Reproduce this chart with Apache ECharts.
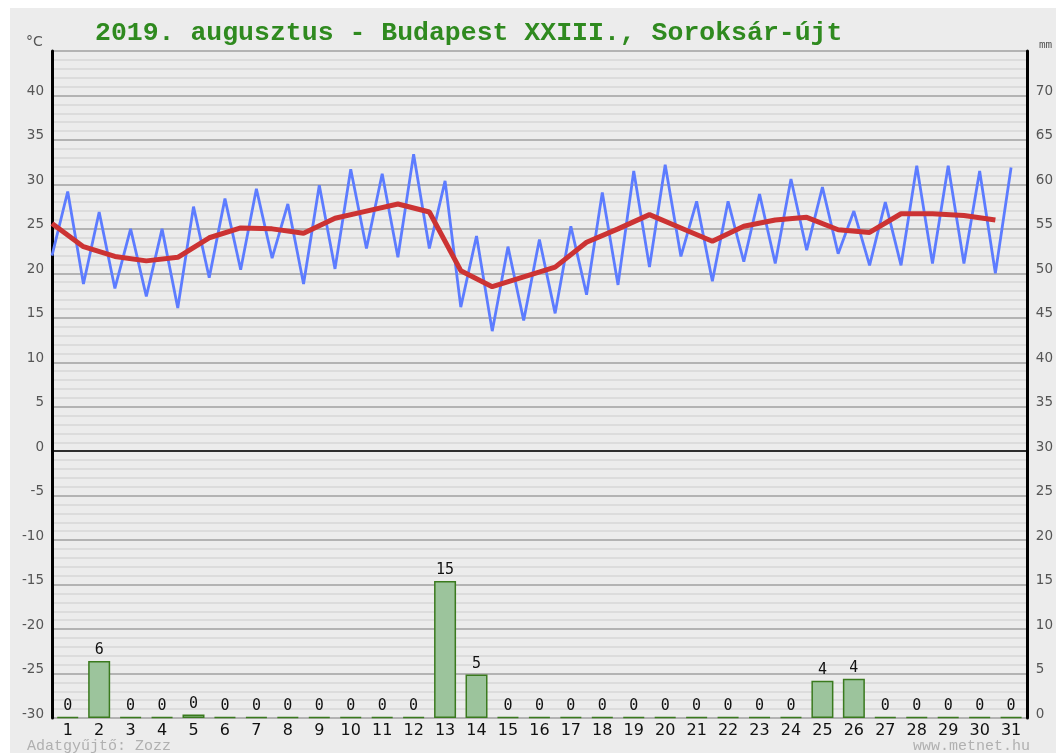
<!DOCTYPE html>
<html>
<head>
<meta charset="utf-8">
<script src="https://cdn.jsdelivr.net/npm/echarts@6/dist/echarts.min.js"></script>
<style>
html,body{margin:0;padding:0;background:#ffffff;width:1056px;height:753px;overflow:hidden;}
#c{position:absolute;left:10px;top:8px;width:1046px;height:745px;}
</style>
</head>
<body>
<div id="c"></div>
<script>
const titleText = '2019. augusztus - Budapest XXIII., Soroksár-újt';
const days = ['1','2','3','4','5','6','7','8','9','10','11','12','13','14','15','16','17','18','19','20','21','22','23','24','25','26','27','28','29','30','31'];
const tmin = [22.0,18.8,18.3,17.4,16.1,19.5,20.4,21.7,18.8,20.5,22.8,21.8,22.8,16.2,13.5,14.7,15.5,17.6,18.7,20.7,21.9,19.1,21.3,21.1,22.6,22.2,20.9,20.9,21.1,21.1,20.0];
const tmax = [29.2,26.9,25.0,25.0,27.5,28.4,29.5,27.8,29.9,31.7,31.2,33.4,30.4,24.2,23.0,23.8,25.3,29.1,31.5,32.2,28.1,28.1,28.9,30.6,29.7,27.0,28.0,32.1,32.1,31.5,31.9];
const tavg = [25.6,23.0,21.9,21.4,21.8,24.0,25.1,25.0,24.5,26.2,27.0,27.8,26.9,20.3,18.5,19.6,20.7,23.5,25.0,26.6,25.1,23.6,25.3,26.0,26.3,24.9,24.6,26.7,26.7,26.5,26.0];
const precip = [0,6.4,0,0,0.4,0,0,0,0,0,0,0,15.4,4.9,0,0,0,0,0,0,0,0,0,0,4.2,4.4,0,0,0,0,0];

const blueData = [];
tmin.forEach((v, i) => { blueData.push([i, v]); blueData.push([i + 0.5, tmax[i]]); });
const redData = tavg.map((v, i) => [i, v]);

const chart = echarts.init(document.getElementById('c'));
chart.setOption({
  backgroundColor: '#ececec',
  animation: false,
  title: {
    text: titleText, left: 80, top: 7,
    textStyle: {fontFamily: 'Liberation Mono', fontWeight: 'bold', fontSize: 26.5, color: '#2f8a1f'}
  },
  grid: {left: 42, right: 28, top: 43, bottom: 35, containLabel: false},
  xAxis: [
    {type: 'category', data: days, boundaryGap: true,
     axisLine: {show: false}, axisTick: {show: false},
     axisLabel: {color: '#111', fontSize: 16, fontFamily: 'DejaVu Sans', margin: 5},
     splitLine: {show: false}},
    {type: 'value', min: 0, max: 31, show: false}
  ],
  yAxis: [
    {type: 'value', min: -30, max: 45, interval: 5, position: 'left',
     axisLine: {show: true, lineStyle: {color: '#000', width: 3}},
     axisTick: {show: false},
     axisLabel: {color: '#555', fontSize: 13.5, fontFamily: 'DejaVu Sans', margin: 8,
       verticalAlign: 'bottom', lineHeight: 8,
       formatter: v => v === 45 ? '' : String(v)},
     splitLine: {show: true, lineStyle: {color: '#a0a0a0', width: 1.5}},
     minorTick: {show: false, splitNumber: 5},
     minorSplitLine: {show: true, lineStyle: {color: '#d6d6d6', width: 1.5}}},
    {type: 'value', min: 0, max: 75, interval: 5, position: 'right',
     axisLine: {show: true, lineStyle: {color: '#000', width: 3}},
     axisTick: {show: false},
     axisLabel: {color: '#555', fontSize: 13.5, fontFamily: 'DejaVu Sans', margin: 9,
       verticalAlign: 'bottom', lineHeight: 8,
       formatter: v => v === 75 ? '' : String(v)},
     splitLine: {show: false}}
  ],
  graphic: [
    {type: 'text', left: 16, top: 27, style: {text: '°C', fill: '#555', font: '14px DejaVu Sans'}},
    {type: 'text', left: 1029, top: 32, style: {text: 'mm', fill: '#555', font: '11px DejaVu Sans Mono'}},
    {type: 'text', left: 17, top: 731, style: {text: 'Adatgyűjtő: Zozz', fill: '#b0b0b0', font: '15px Liberation Mono'}},
    {type: 'text', right: 26, top: 731, style: {text: 'www.metnet.hu', fill: '#b0b0b0', font: '15px Liberation Mono'}}
  ],
  series: [
    {type: 'bar', xAxisIndex: 0, yAxisIndex: 1, data: precip, barWidth: 22, barMinHeight: 1,
     itemStyle: {color: '#9cc49c', borderColor: '#3a7a1e', borderWidth: 1.5},
     label: {show: true, position: 'top', distance: 3, color: '#111', fontSize: 15,
       fontFamily: 'DejaVu Sans Mono', formatter: p => String(Math.round(p.value))},
     z: 2},
    {type: 'line', xAxisIndex: 1, yAxisIndex: 0, data: blueData, symbol: 'none',
     lineStyle: {color: '#5d7cff', width: 2.8}, z: 3,
     markLine: {silent: true, symbol: 'none', label: {show: false},
       lineStyle: {color: '#000', width: 1.5, type: 'solid'}, data: [{yAxis: 0}]}},
    {type: 'line', xAxisIndex: 1, yAxisIndex: 0, data: redData, symbol: 'none',
     lineStyle: {color: '#cc3333', width: 5}, z: 4}
  ]
});
</script>
</body>
</html>
